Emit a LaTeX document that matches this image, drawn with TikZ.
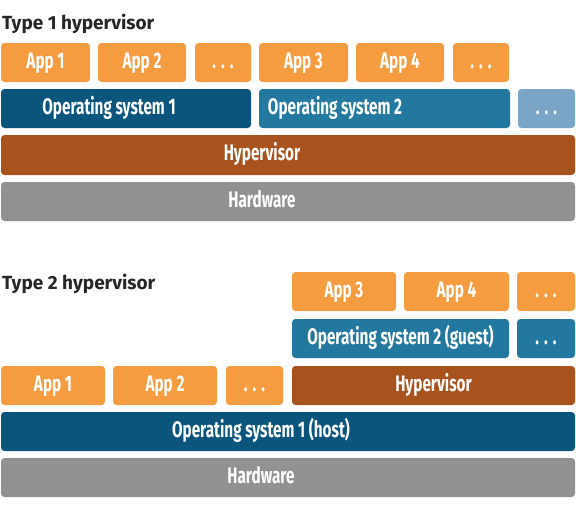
\documentclass[tikz,border=0pt]{standalone}
\usepackage{fontspec}
\setsansfont{Fira Sans}
\newfontfamily\boxfont[FakeStretch=0.68]{Fira Sans}
\definecolor{appcol}{HTML}{F59C41}
\definecolor{hostcol}{HTML}{0B557D}
\definecolor{guestcol}{HTML}{23789F}
\definecolor{morecol}{HTML}{7BA5C7}
\definecolor{hypcol}{HTML}{A8531E}
\definecolor{hwcol}{HTML}{909193}
\newcommand{\more}{.\hspace{5pt}.\hspace{5pt}.}
\tikzset{
	layer/.style={fill=#1, rounded corners=3.5pt, text=white, inner sep=0pt,
		minimum height=39pt, text height=15pt, text depth=4pt,
		font=\boxfont\bfseries\fontsize{22.5}{22.5}\selectfont},
	heading/.style={anchor=base west, inner sep=0pt, text=black!85,
		font=\sffamily\bfseries\fontsize{19}{19}\selectfont}
}
\begin{document}
\begin{tikzpicture}[x=1pt, y=-1pt]
	  \useasboundingbox (0,0) rectangle (576,504);
	  % type 1
	  \node[heading] (title1) at (2,29) {Type 1 hypervisor};
	  \node[layer=appcol, minimum width=89pt] (appa1) at (45.5,62.5) {App 1};
	  \node[layer=appcol, minimum width=88pt] (appa2) at (142,62.5) {App 2};
	  \node[layer=appcol, minimum width=56pt] (moreaa) at (223,62.5) {\more};
	  \node[layer=appcol, minimum width=89pt] (appa3) at (303.5,62.5) {App 3};
	  \node[layer=appcol, minimum width=88pt] (appa4) at (400,62.5) {App 4};
	  \node[layer=appcol, minimum width=56pt] (moreab) at (481,62.5) {\more};
	  \node[layer=hostcol, minimum width=250pt] (osa1) at (126,108.5) {\hspace{-34pt}Operating system 1};
	  \node[layer=guestcol, minimum width=251pt] (osa2) at (384.5,108.5) {\hspace{-99pt}Operating system 2};
	  \node[layer=morecol, minimum width=57pt] (moreac) at (546.5,108.5) {\more};
	  \node[layer=hypcol, minimum width=574pt, minimum height=40pt] (hypa) at (288,155) {\hspace{-52pt}Hypervisor};
	  \node[layer=hwcol, minimum width=574pt] (hwa) at (288,201.5) {\hspace{-52pt}Hardware};
	  % type 2
	  \node[heading] (title2) at (2,289) {Type 2 hypervisor};
	  \node[layer=appcol, minimum width=104pt] (appb3) at (344,291.5) {App 3};
	  \node[layer=appcol, minimum width=105pt] (appb4) at (456.5,291.5) {App 4};
	  \node[layer=appcol, minimum width=58pt] (moreba) at (546,291.5) {\more};
	  \node[layer=guestcol, minimum width=217pt] (guest) at (400.5,338.5) {Operating system 2 (guest)};
	  \node[layer=guestcol, minimum width=58pt] (morebb) at (546,338.5) {\more};
	  \node[layer=appcol, minimum width=104pt] (appb1) at (53,385.5) {App 1};
	  \node[layer=appcol, minimum width=104pt] (appb2) at (165,385.5) {App 2};
	  \node[layer=appcol, minimum width=57pt] (morebc) at (254.5,385.5) {\more};
	  \node[layer=hypcol, minimum width=283pt] (hypb) at (433.5,385.5) {Hypervisor};
	  \node[layer=hostcol, minimum width=574pt] (host) at (288,431.5) {\hspace{-54pt}Operating system 1 (host)};
	  \node[layer=hwcol, minimum width=574pt] (hwb) at (288,477.5) {\hspace{-54pt}Hardware};
	\end{tikzpicture}
\end{document}
